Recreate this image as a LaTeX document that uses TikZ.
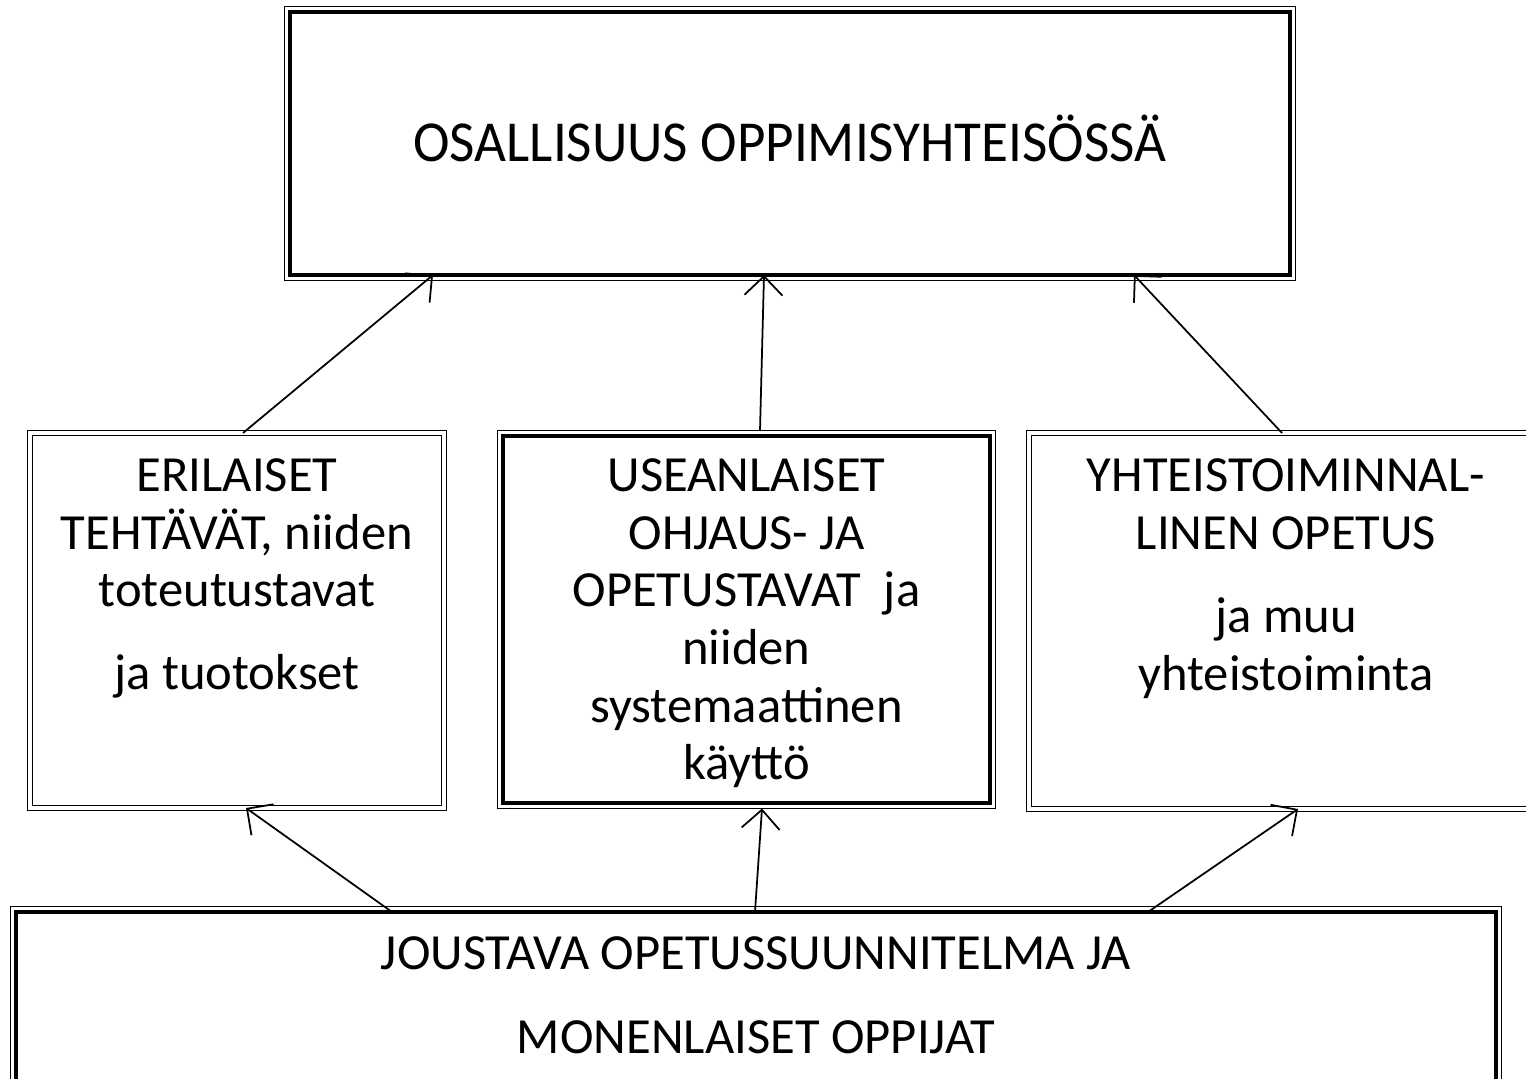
\documentclass[tikz,border=0pt]{standalone}
\usepackage{fontspec}
\setmainfont{Carlito}
\newfontfamily\titlefont[FakeStretch=0.95]{Carlito}
\usepackage{tikz}
\usetikzlibrary{positioning,arrows.meta}

\begin{document}
\begin{tikzpicture}[
		box/.style={draw,outer sep=0pt,inner sep=0pt},
		thickbox/.style={box,line width=0.9pt},
		dblbox/.style={box,double,line width=0.4pt,double distance=1.1pt},
		txt/.style={align=center,inner sep=0pt,font=\fontsize{14.4}{16.4}\selectfont},
		arr/.style={-{Straight Barb[length=1.9mm,width=3.8mm]},line width=0.5pt}
	]
		\useasboundingbox (0,0) rectangle (15.26,10.79);
		
		\node[thickbox,minimum width=10cm,minimum height=2.63cm,text height=10.4pt,text depth=0pt,font=\titlefont\fontsize{16.5}{18}\selectfont] (osallisuus) at (7.90,9.355) {OSALLISUUS OPPIMISYHTEISÖSSÄ};
		
		\node[dblbox,minimum width=4.14cm,minimum height=3.75cm] (erilaiset) at (2.37,4.585) {};
		\node[thickbox,minimum width=4.87cm,minimum height=3.67cm] (ohjaus) at (7.465,4.595) {};
		\node[dblbox,minimum width=5.4cm,minimum height=3.76cm] (yhteis) at (12.99,4.58) {};
		
		\node[thickbox,minimum width=14.80cm,minimum height=2.08cm] (joustava) at (7.56,0.63) {};
		
		\foreach \n in {osallisuus,ohjaus,joustava}
			\draw[line width=0.4pt] ([shift={(-0.055,0.055)}]\n.north west) rectangle ([shift={(0.055,-0.055)}]\n.south east);
		
		\node[txt,below=2.5mm of erilaiset.north] (erilaiset-txt) {ERILAISET\\TEHTÄVÄT, niiden\\toteutustavat\\[0.25cm]ja tuotokset};
		\node[txt,below=2.2mm of ohjaus.north] (ohjaus-txt) {USEANLAISET\\OHJAUS- JA\\OPETUSTAVAT~ ja\\niiden\\systemaattinen\\käyttö};
		\node[txt,below=2.5mm of yhteis.north,xshift=-0.13cm] (yhteis-txt) {YHTEISTOIMINNAL-\\LINEN OPETUS\\[0.26cm]ja muu\\yhteistoiminta};
		\node[txt,below=2.4mm of joustava.north] (joustava-txt) {JOUSTAVA OPETUSSUUNNITELMA JA\\[0.26cm]MONENLAISET OPPIJAT};
		
		\draw[arr] ([xshift=-3.64cm]joustava.north) -- ([xshift=0.09cm]erilaiset.south);
		\draw[arr] ([xshift=-0.01cm]joustava.north) -- ([shift={(0.155,-0.055)}]ohjaus.south);
		\draw[arr] ([xshift=3.92cm]joustava.north) -- ([xshift=-0.01cm]yhteis.south);
		
		\draw[arr] ([xshift=0.06cm]erilaiset.north) -- ([xshift=-3.57cm]osallisuus.south);
		\draw[arr] ([shift={(0.135,0.05)}]ohjaus.north) -- ([xshift=-0.26cm]osallisuus.south);
		\draw[arr] ([xshift=-0.17cm]yhteis.north) -- ([xshift=3.44cm]osallisuus.south);
	\end{tikzpicture}
\end{document}
